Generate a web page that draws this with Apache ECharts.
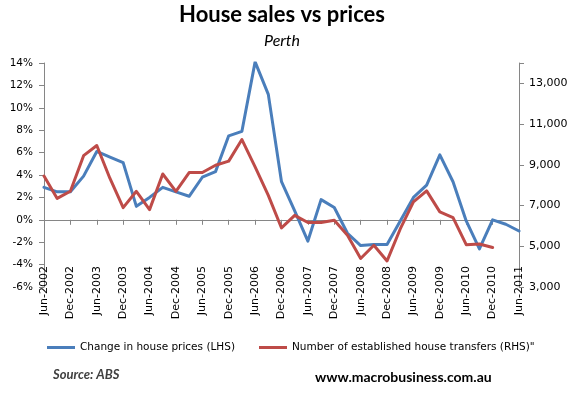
<!DOCTYPE html>
<html><head><meta charset="utf-8">
<script src="https://cdn.jsdelivr.net/npm/echarts@6/dist/echarts.min.js"></script>
<style>html,body{margin:0;padding:0;background:#fff}#c{width:580px;height:396px}</style>
</head><body><div id="c"></div>
<script>
// Quarterly categories
const categories = [
  'Jun-2002','Sep-2002','Dec-2002','Mar-2003','Jun-2003','Sep-2003','Dec-2003','Mar-2004',
  'Jun-2004','Sep-2004','Dec-2004','Mar-2005','Jun-2005','Sep-2005','Dec-2005','Mar-2006',
  'Jun-2006','Sep-2006','Dec-2006','Mar-2007','Jun-2007','Sep-2007','Dec-2007','Mar-2008',
  'Jun-2008','Sep-2008','Dec-2008','Mar-2009','Jun-2009','Sep-2009','Dec-2009','Mar-2010',
  'Jun-2010','Sep-2010','Dec-2010','Mar-2011','Jun-2011'
];
// Change in house prices (%, LHS)
const priceChange = [
  2.9, 2.5, 2.5, 3.9, 6.1, 5.6, 5.1, 1.2,
  2.0, 2.9, 2.5, 2.1, 3.8, 4.3, 7.5, 7.9,
  14.1, 11.2, 3.4, 0.8, -1.9, 1.8, 1.1, -1.2,
  -2.3, -2.2, -2.2, -0.1, 2.0, 3.1, 5.8, 3.4,
  -0.1, -2.6, 0.0, -0.4, -1.0
];
// Number of established house transfers (RHS)
const houseTransfers = [
  8450, 7350, 7700, 9450, 9950, 8330, 6900, 7700,
  6800, 8550, 7700, 8620, 8620, 8980, 9180, 10240,
  8900, 7500, 5900, 6520, 6170, 6170, 6280, 5540,
  4400, 5050, 4280, 5850, 7180, 7720, 6690, 6410,
  5080, 5110, 4940, null, null
];
const leftAxisRange = [-6, 14, 2];
const rightAxisRange = [3000, 14000, 2000];
const seriesNames = ['Change in house prices (LHS)', 'Number of established house transfers (RHS)"'];

const axisGrey = '#868686';
const chart = echarts.init(document.getElementById('c'), null, {renderer: 'canvas'});
chart.setOption({
  animation: false,
  backgroundColor: '#fff',
  title: [
    {text: 'House sales vs prices', left: 282, top: 4, textAlign: 'center', padding: 0,
     textStyle: {fontFamily: 'Lato', fontWeight: 'bold', fontSize: 22, color: '#000'}},
    {text: 'Perth', left: 282, top: 33, textAlign: 'center', padding: 0,
     textStyle: {fontFamily: 'Lato', fontStyle: 'italic', fontWeight: 'normal', fontSize: 16, color: '#000'}},
    {text: 'Source: ABS', left: 53, top: 368, padding: 0,
     textStyle: {fontFamily: 'Lato', fontStyle: 'italic', fontWeight: 'bold', fontSize: 13, color: '#404040'}},
    {text: 'www.macrobusiness.com.au', left: 315, top: 370, padding: 0,
     textStyle: {fontFamily: 'Lato', fontWeight: 'bold', fontSize: 14, color: '#000'}}
  ],
  legend: {
    left: 47, top: 342, padding: 0, itemGap: 24, itemWidth: 28, itemHeight: 3, icon: 'rect',
    data: seriesNames,
    textStyle: {fontFamily: 'DejaVu Sans', fontSize: 10.5, color: '#000'}
  },
  grid: {left: 44, right: 61, top: 63, bottom: 109, containLabel: false},
  xAxis: [
    {type: 'category', data: categories, boundaryGap: false,
     axisLine: {onZero: true, lineStyle: {color: axisGrey, width: 1}},
     axisTick: {show: true, interval: 1, length: 5, lineStyle: {color: axisGrey}},
     axisLabel: {show: false}, splitLine: {show: false}},
    {type: 'category', data: categories, boundaryGap: false, position: 'bottom',
     axisLine: {show: false, onZero: false}, axisTick: {show: false}, splitLine: {show: false},
     axisLabel: {show: true, interval: 1, rotate: 90, margin: -21, padding: [8, 0, 0, 0],
       fontFamily: 'DejaVu Sans', fontSize: 11, color: '#000'}}
  ],
  yAxis: [
    {type: 'value', min: leftAxisRange[0], max: leftAxisRange[1], interval: leftAxisRange[2],
     axisLine: {show: true, lineStyle: {color: axisGrey}},
     axisTick: {show: true, length: 5, lineStyle: {color: axisGrey}},
     splitLine: {show: false},
     axisLabel: {formatter: '{value}%', margin: 11, fontFamily: 'DejaVu Sans', fontSize: 10.5, color: '#000'}},
    {type: 'value', min: rightAxisRange[0], max: rightAxisRange[1], interval: rightAxisRange[2], position: 'right',
     axisLine: {show: true, lineStyle: {color: axisGrey}},
     axisTick: {show: true, length: 5, lineStyle: {color: axisGrey}},
     splitLine: {show: false},
     axisLabel: {margin: 10, fontFamily: 'DejaVu Sans', fontSize: 11, color: '#000',
       formatter: v => v >= rightAxisRange[1] ? '' : v.toLocaleString('en-US')}}
  ],
  series: [
    {name: seriesNames[0], type: 'line', data: priceChange, xAxisIndex: 0, yAxisIndex: 0,
     showSymbol: false, symbol: 'none', color: '#4A7EBB',
     lineStyle: {width: 3, color: '#4A7EBB', join: 'round', cap: 'round'}, z: 3},
    {name: seriesNames[1], type: 'line', data: houseTransfers, xAxisIndex: 0, yAxisIndex: 1,
     showSymbol: false, symbol: 'none', color: '#BE4B48', connectNulls: false,
     lineStyle: {width: 3, color: '#BE4B48', join: 'round', cap: 'round'}, z: 4}
  ]
});
</script></body></html>
